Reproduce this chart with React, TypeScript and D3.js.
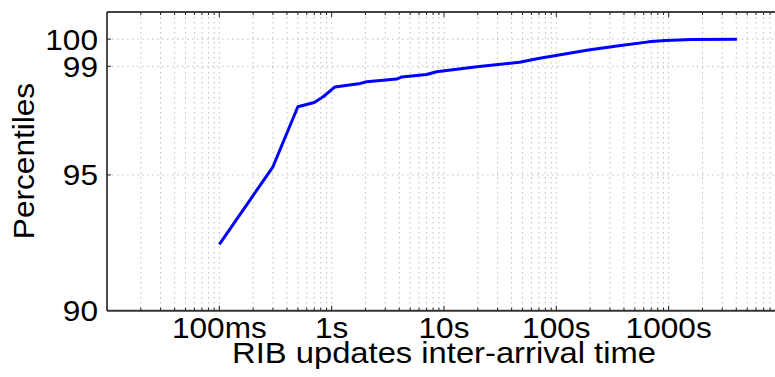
import * as d3 from 'd3';

// inter-arrival time (s) vs cumulative percentile
const times = [0.1, 0.3, 0.5, 0.7, 0.84, 1.07, 1.8, 2.05, 3.8, 4.2, 7.0, 8.6, 19.6, 47, 69, 193, 334, 661, 931, 1610, 4050];
const percentiles = [92.44, 95.3, 97.51, 97.67, 97.88, 98.24, 98.37, 98.43, 98.53, 98.61, 98.7, 98.8, 98.98, 99.15, 99.29, 99.6, 99.74, 99.9, 99.95, 99.99, 100];

const yTicks = [90, 95, 99, 100];
const xMajor = [0.1, 1, 10, 100, 1000];
const xLabels = ['100ms', '1s', '10s', '100s', '1000s'];

const width = 775;
const height = 377;
const margin = { top: 12, right: -6, bottom: 66, left: 107 };
const font = '"Liberation Sans", Arial, Helvetica, sans-serif';
const stretch = 1.09; // reference glyphs are a bit wider than Liberation Sans

export default function App() {
    const x = d3.scaleLog()
        .domain([0.01, 10000])
        .range([margin.left, width - margin.right]);

    const y = d3.scaleLinear()
        .domain([90, 101])
        .range([height - margin.bottom - 0.3, margin.top]);

    // minor ticks: 1..9 × each decade
    const allTicks: number[] = [];
    for (let e = -2; e < 4; e++) {
        for (let k = 1; k < 10; k++) allTicks.push(k * Math.pow(10, e));
    }
    const isMajor = (t: number) => xMajor.some(m => Math.abs(m - t) / m < 1e-6);

    const line = d3.line<number>()
        .x((_, i) => x(times[i]))
        .y(d => y(d));

    const top = margin.top;
    const bottom = y(90);
    const left = margin.left;
    const right = width;

    return (
        <svg width={width} height={height} style={{ position: 'absolute', left: 0, top: 0, background: '#fff' }}
            fontFamily={font}>
            {/* Grid */}
            <g stroke="#bdbdbd" strokeWidth={1} strokeDasharray="1.5,3.5">
                {allTicks.filter(t => t > 0.01).map(t => (
                    <line key={'gx' + t} x1={x(t)} x2={x(t)} y1={top} y2={bottom} />
                ))}
                {yTicks.filter(v => v > 90).map(v => (
                    <line key={'gy' + v} x1={left} x2={right} y1={y(v)} y2={y(v)} />
                ))}
            </g>

            {/* Frame */}
            <line x1={left} x2={right} y1={top} y2={top} stroke="#444" strokeWidth={2} />
            <line x1={left} x2={right} y1={bottom} y2={bottom} stroke="#333" strokeWidth={2} />
            <line x1={left} x2={left} y1={top} y2={bottom} stroke="#111" strokeWidth={1.5} />

            {/* X ticks (top and bottom, inward) */}
            <g stroke="#222" strokeWidth={1}>
                {allTicks.filter(t => t > 0.01).map(t => {
                    const len = isMajor(t) ? 5 : 3;
                    return (
                        <g key={'tx' + t}>
                            <line x1={x(t)} x2={x(t)} y1={top} y2={top + len} />
                            <line x1={x(t)} x2={x(t)} y1={bottom} y2={bottom - len} />
                        </g>
                    );
                })}
                {yTicks.filter(v => v > 90).map(v => (
                    <line key={'ty' + v} x1={left} x2={left + 4} y1={y(v)} y2={y(v)} />
                ))}
            </g>

            {/* Curve */}
            <path d={line(percentiles) || ''} fill="none" stroke="#0000ff" strokeWidth={3} strokeLinejoin="round" />

            {/* Y labels */}
            <g fontSize={29} textAnchor="end" fill="#000">
                {yTicks.map(v => (
                    <text key={'ly' + v} transform={`translate(${left - 9},${y(v) + 10.5}) scale(${stretch},1)`}>{v}</text>
                ))}
            </g>

            {/* X labels */}
            <g fontSize={29} textAnchor="middle" fill="#000">
                {xMajor.map((t, i) => (
                    <text key={'lx' + t} transform={`translate(${x(t)},337.5) scale(${stretch},1)`}>{xLabels[i]}</text>
                ))}
            </g>

            <text transform={`translate(${x(10)},363) scale(1.11,1)`} fontSize={29.5} textAnchor="middle">
                RIB updates inter-arrival time
            </text>
            <text transform={`translate(33.5,161) rotate(-90) scale(${stretch},1)`} fontSize={29} textAnchor="middle">
                Percentiles
            </text>
        </svg>
    );
}
